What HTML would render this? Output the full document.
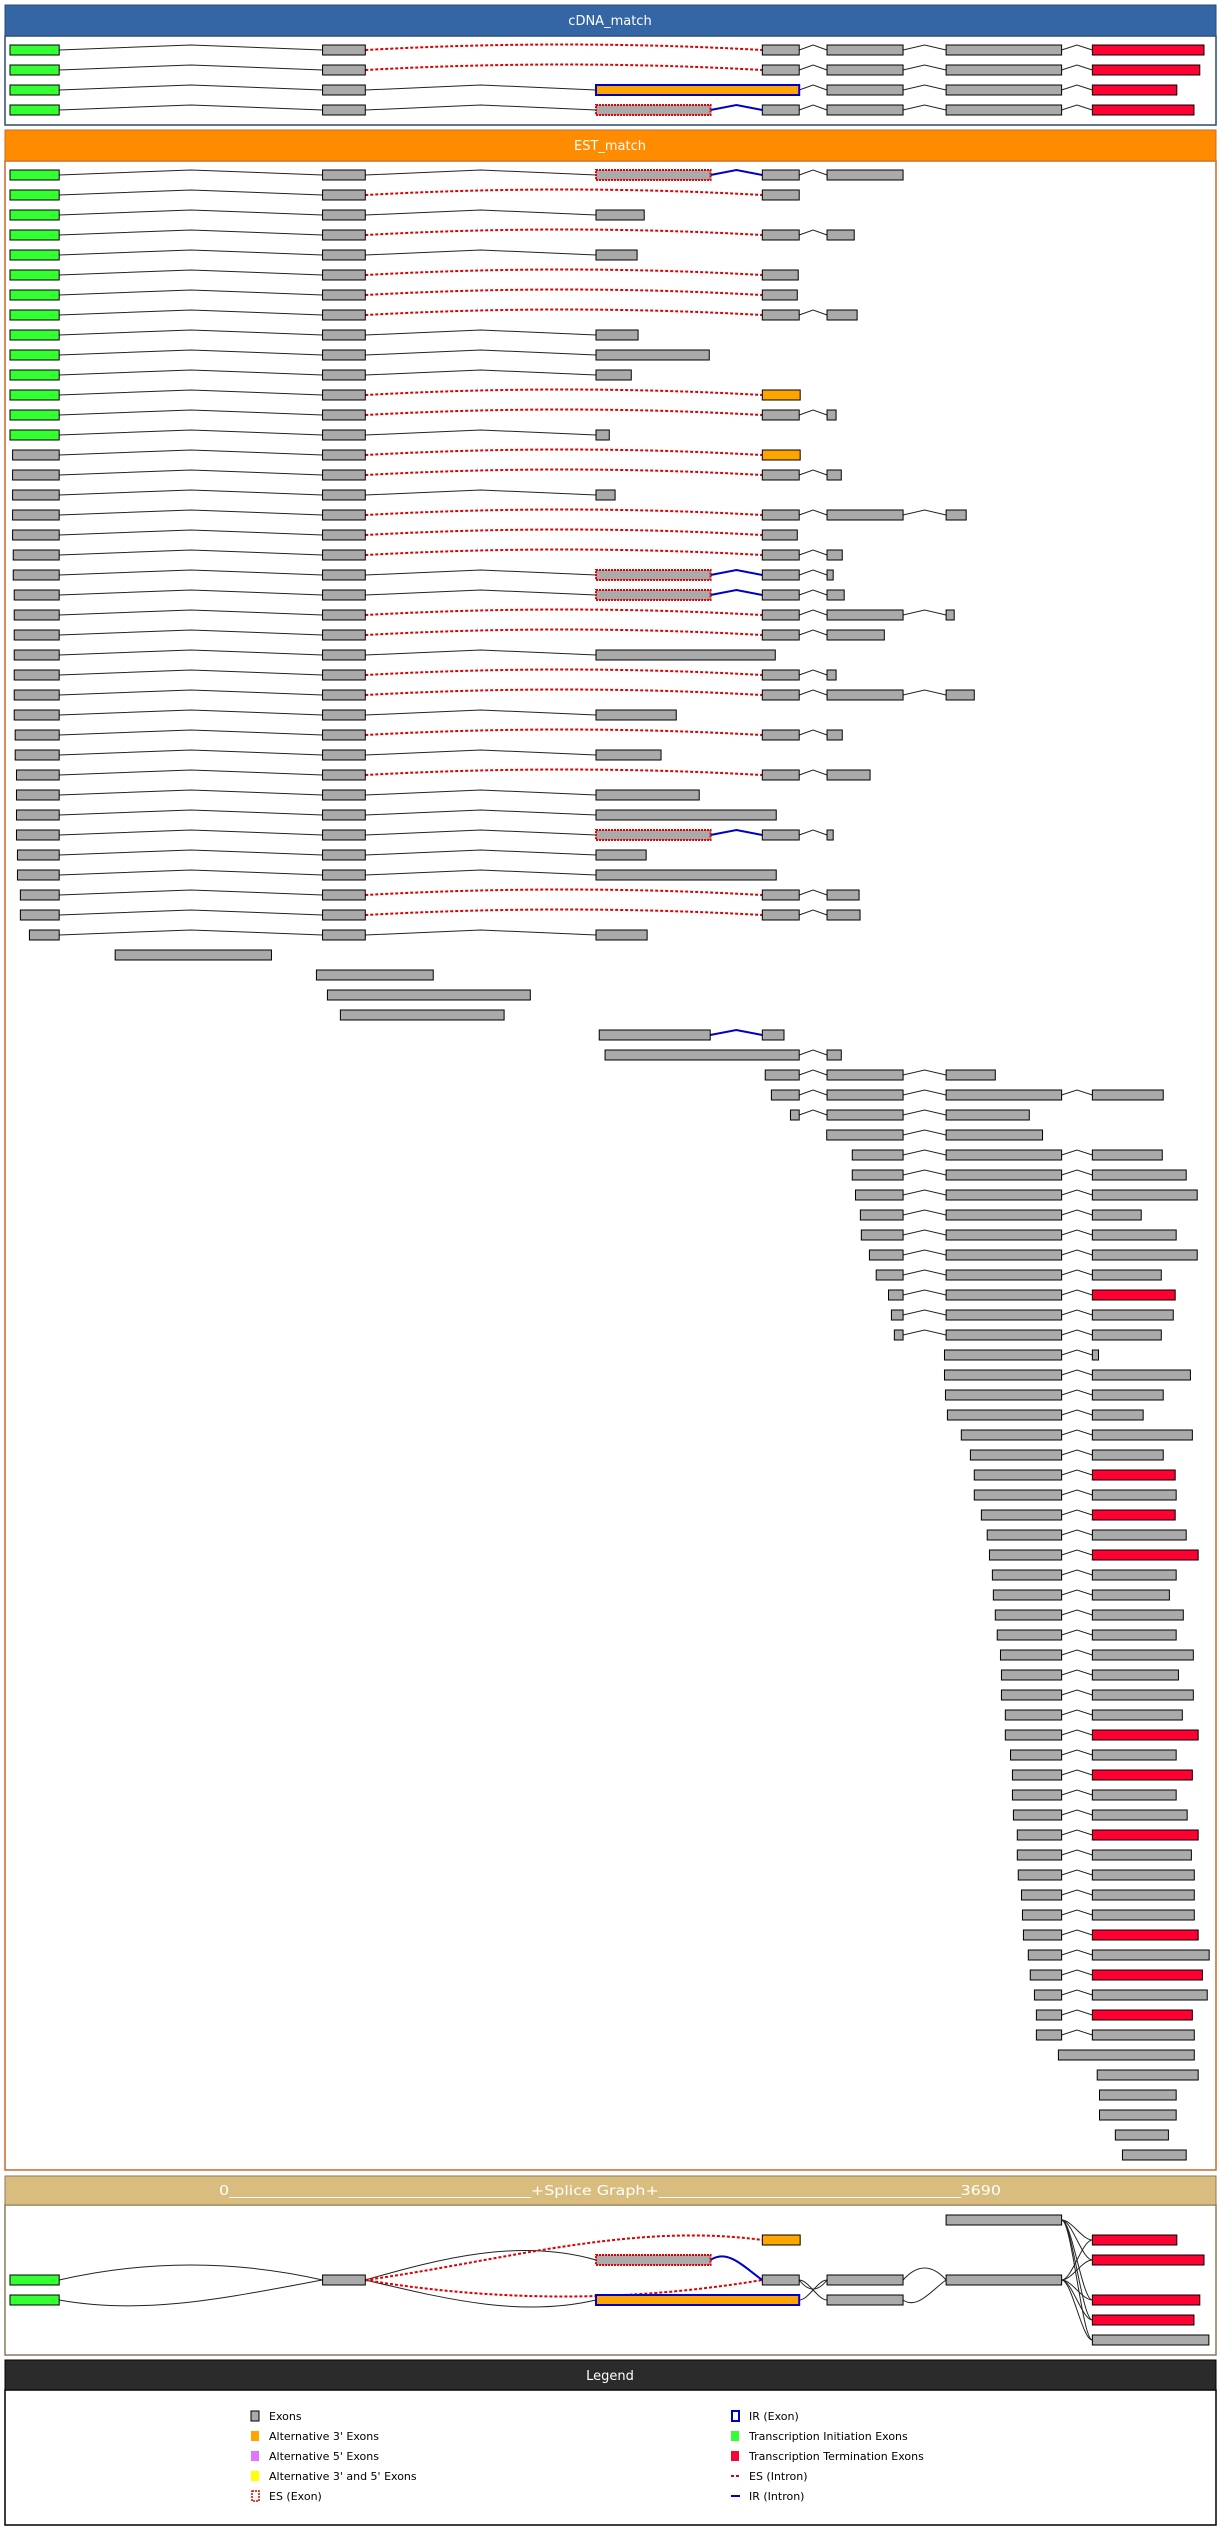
<!DOCTYPE html>
<html><head><meta charset="utf-8">
<style>
html,body{margin:0;padding:0;background:#fff;}
svg{display:block;font-family:"DejaVu Sans","Liberation Sans",sans-serif;}
</style></head>
<body>
<svg id="chart" width="1220" height="2545" viewBox="0 0 1220 2545" xmlns="http://www.w3.org/2000/svg">
  <!-- cDNA panel -->
  <g>
    <rect x="5" y="36" width="1211" height="89" fill="#fff" stroke="#2c4a6e" stroke-width="1.5"/>
    <rect x="5" y="5" width="1211" height="31" fill="#3465a4" stroke="#2c4a6e"/>
    <text x="610" y="25" fill="#fff" font-size="13" text-anchor="middle">cDNA_match</text>
  </g>
  <g>
    <rect x="5" y="161" width="1211" height="2009" fill="#fff" stroke="#c8692a" stroke-width="1.5"/>
    <rect x="5" y="130" width="1211" height="31" fill="#ff8c00" stroke="#c8692a"/>
    <text x="610" y="150" fill="#fff" font-size="13" text-anchor="middle">EST_match</text>
  </g>
  <g>
    <rect x="5" y="2205" width="1211" height="150" fill="#fff" stroke="#8a7a5a" stroke-width="1.5"/>
    <rect x="5" y="2176" width="1211" height="29" fill="#d8bd7e" stroke="#8a7a5a"/>
    <text x="219" y="2195" fill="#fff" font-size="13" textLength="782" lengthAdjust="spacingAndGlyphs">0______________________________________+Splice Graph+______________________________________3690</text>
  </g>
  <g>
    <rect x="5" y="2390" width="1211" height="135" fill="#fff" stroke="#000" stroke-width="1.5"/>
    <rect x="5" y="2360" width="1211" height="30" fill="#2b2b2b" stroke="#000"/>
    <text x="610" y="2380" fill="#fff" font-size="13" text-anchor="middle">Legend</text>
  </g>
  <g id="marks"></g>
</svg>
<script>
// ---- data (genomic coordinates, 0..3690 bp) ----
const geneLength = 3690;
const cdnaRows = [
 "0-152I n 966-1098G d 2325-2439G n 2525-2760G n 2893-3250G n 3345-3690T",
 "0-152I n 966-1098G d 2325-2439G n 2525-2760G n 2893-3250G n 3345-3677T",
 "0-152I n 966-1098G n 1811-2439R n 2525-2760G n 2893-3250G n 3345-3606T",
 "0-152I n 966-1098G n 1811-2165S b 2325-2439G n 2525-2760G n 2893-3250G n 3345-3659T"
];
const estRows = [
 "0-152I n 966-1098G n 1811-2165S b 2325-2439G n 2525-2760G",
 "0-152I n 966-1098G d 2325-2439G",
 "0-152I n 966-1098G n 1811-1960G",
 "0-152I n 966-1098G d 2325-2439G n 2525-2609G",
 "0-152I n 966-1098G n 1811-1938G",
 "0-152I n 966-1098G d 2325-2436G",
 "0-152I n 966-1098G d 2325-2433G",
 "0-152I n 966-1098G d 2325-2439G n 2525-2618G",
 "0-152I n 966-1098G n 1811-1941G",
 "0-152I n 966-1098G n 1811-2161G",
 "0-152I n 966-1098G n 1811-1920G",
 "0-152I n 966-1098G d 2325-2442A",
 "0-152I n 966-1098G d 2325-2439G n 2525-2553G",
 "0-152I n 966-1098G n 1811-1852G",
 "8-152G n 966-1098G d 2325-2442A",
 "8-152G n 966-1098G d 2325-2439G n 2525-2569G",
 "8-152G n 966-1098G n 1811-1870G",
 "8-152G n 966-1098G d 2325-2439G n 2525-2760G n 2893-2955G",
 "8-152G n 966-1098G d 2325-2433G",
 "10-152G n 966-1098G d 2325-2439G n 2525-2572G",
 "10-152G n 966-1098G n 1811-2165S b 2325-2439G n 2525-2544G",
 "13-152G n 966-1098G n 1811-2165S b 2325-2439G n 2525-2578G",
 "13-152G n 966-1098G d 2325-2439G n 2525-2760G n 2893-2918G",
 "13-152G n 966-1098G d 2325-2439G n 2525-2702G",
 "13-152G n 966-1098G n 1811-2365G",
 "13-152G n 966-1098G d 2325-2439G n 2525-2553G",
 "13-152G n 966-1098G d 2325-2439G n 2525-2760G n 2893-2980G",
 "13-152G n 966-1098G n 1811-2059G",
 "16-152G n 966-1098G d 2325-2439G n 2525-2572G",
 "16-152G n 966-1098G n 1811-2012G",
 "20-152G n 966-1098G d 2325-2439G n 2525-2658G",
 "20-152G n 966-1098G n 1811-2130G",
 "20-152G n 966-1098G n 1811-2368G",
 "20-152G n 966-1098G n 1811-2165S b 2325-2439G n 2525-2544G",
 "23-152G n 966-1098G n 1811-1966G",
 "23-152G n 966-1098G n 1811-2368G",
 "32-152G n 966-1098G d 2325-2439G n 2525-2624G",
 "32-152G n 966-1098G d 2325-2439G n 2525-2627G",
 "60-152G n 966-1098G n 1811-1969G",
 "325-808G",
 "947-1308G",
 "981-1608G",
 "1021-1527G",
 "1821-2164G b 2325-2392G",
 "1839-2439G n 2525-2569G",
 "2334-2439G n 2525-2760G n 2893-3045G",
 "2353-2439G n 2525-2760G n 2893-3250G n 3345-3564G",
 "2412-2439G n 2525-2760G n 2893-3150G",
 "2524-2760G n 2893-3191G",
 "2603-2760G n 2893-3250G n 3345-3561G",
 "2603-2760G n 2893-3250G n 3345-3635G",
 "2613-2760G n 2893-3250G n 3345-3669G",
 "2628-2760G n 2893-3250G n 3345-3496G",
 "2631-2760G n 2893-3250G n 3345-3604G",
 "2656-2760G n 2893-3250G n 3345-3669G",
 "2677-2760G n 2893-3250G n 3345-3558G",
 "2715-2760G n 2893-3250G n 3345-3601T",
 "2724-2760G n 2893-3250G n 3345-3595G",
 "2733-2760G n 2893-3250G n 3345-3558G",
 "2888-3250G n 3345-3364G",
 "2888-3250G n 3345-3648G",
 "2891-3250G n 3345-3564G",
 "2897-3250G n 3345-3502G",
 "2940-3250G n 3345-3654G",
 "2968-3250G n 3345-3564G",
 "2980-3250G n 3345-3601T",
 "2980-3250G n 3345-3604G",
 "3002-3250G n 3345-3601T",
 "3020-3250G n 3345-3635G",
 "3027-3250G n 3345-3672T",
 "3036-3250G n 3345-3604G",
 "3039-3250G n 3345-3583G",
 "3045-3250G n 3345-3626G",
 "3051-3250G n 3345-3604G",
 "3061-3250G n 3345-3657G",
 "3064-3250G n 3345-3611G",
 "3064-3250G n 3345-3657G",
 "3076-3250G n 3345-3623G",
 "3076-3250G n 3345-3672T",
 "3092-3250G n 3345-3604G",
 "3098-3250G n 3345-3654T",
 "3098-3250G n 3345-3604G",
 "3101-3250G n 3345-3638G",
 "3113-3250G n 3345-3672T",
 "3113-3250G n 3345-3651G",
 "3116-3250G n 3345-3660G",
 "3126-3250G n 3345-3660G",
 "3129-3250G n 3345-3660G",
 "3132-3250G n 3345-3672T",
 "3147-3250G n 3345-3706G",
 "3153-3250G n 3345-3685T",
 "3166-3250G n 3345-3700G",
 "3172-3250G n 3345-3654T",
 "3172-3250G n 3345-3660G",
 "3240-3660G",
 "3360-3672G",
 "3367-3604G",
 "3367-3604G",
 "3416-3580G",
 "3438-3635G"
];
// splice graph exons: start, end, type, level (0..6)
const sgStarts = [0, 0, 966, 1811, 1811, 2325, 2325, 2525, 2525, 2893, 2893, 3345, 3345, 3345, 3345, 3345];
const sgEnds   = [152, 152, 1098, 2165, 2439, 2442, 2439, 2760, 2760, 3250, 3250, 3606, 3690, 3677, 3659, 3705];
const sgTypes  = ["I","I","G","S","R","A","G","G","G","G","G","T","T","T","T","G"];
const sgLevels = [3, 4, 3, 2, 4, 1, 3, 3, 4, 0, 3, 1, 2, 4, 5, 6];
// edges: from exon index, to exon index, style, bow
const sgFrom = [0, 1, 2, 2, 2, 2, 3, 6, 6, 4, 7, 8, 10,10,10,10,10, 9, 9, 9, 9, 9];
const sgTo   = [2, 2, 3, 4, 5, 6, 6, 7, 8, 7, 10,10,11,12,13,14,15,11,12,13,14,15];
const sgStyle= ["n","n","n","n","d","d","b","n","n","n","n","n","n","n","n","n","n","n","n","n","n","n"];
const sgBow  = [-20, 16, -22, 18, -18, 22, -12, 12, 0, 0, -16, 10, 0,0,0,0,0, 0,0,0,0,0];
const legendLabels = ["Exons","Alternative 3' Exons","Alternative 5' Exons","Alternative 3' and 5' Exons","ES (Exon)","IR (Exon)","Transcription Initiation Exons","Transcription Termination Exons","ES (Intron)","IR (Intron)"];
const legendKeys = ["G","A","F","Y","S","R","I","T","d","b"];

// ---- rendering ----
const NS = "http://www.w3.org/2000/svg";
const marks = document.getElementById("marks");
const xScale = bp => 10 + bp * (1194 / geneLength);
const fills = {I:"#33ff33", G:"#aaaaaa", A:"#ffa500", T:"#ff0033", S:"#aaaaaa", R:"#ffa500", F:"#dd77ff", Y:"#ffff00"};
function mk(tag, attrs, parent){
  const e = document.createElementNS(NS, tag);
  for (const k in attrs) e.setAttribute(k, attrs[k]);
  (parent || marks).appendChild(e);
  return e;
}
function drawExon(s, e, t, cy, g, name){
  const x1 = xScale(s), x2 = xScale(e);
  const r = mk("rect", {x:x1, y:cy-5, width:Math.max(2, x2-x1), height:10, fill:fills[t],
    stroke: t==="S" ? "#e00000" : t==="R" ? "#0000cc" : "#000",
    "stroke-width": (t==="S"||t==="R") ? 2 : 1,
    "stroke-dasharray": t==="S" ? "2,1" : "none"}, g);
  
  
}
function drawIntron(a, b, st, cy, g){
  const x1 = xScale(a), x2 = xScale(b), xm = (x1 + x2) / 2;
  let p;
  if (st === "d") {
    p = mk("path", {d:`M${x1},${cy} Q${xm},${cy-11} ${x2},${cy}`, fill:"none", stroke:"#dd0000", "stroke-width":2, "stroke-dasharray":"3,2"}, g);
    
  } else if (st === "b") {
    p = mk("polyline", {points:`${x1},${cy} ${xm},${cy-5} ${x2},${cy}`, fill:"none", stroke:"#0000cc", "stroke-width":2}, g);
    
  } else {
    p = mk("polyline", {points:`${x1},${cy} ${xm},${cy-5} ${x2},${cy}`, fill:"none", stroke:"#222", "stroke-width":1}, g);
    
  }
  
}
function drawRow(str, cy, name){
  const g = mk("g", {});
  
  
  const tok = str.split(" ");
  const ex = [], it = [];
  tok.forEach((t, i) => {
    if (i % 2 === 0) { const m = t.match(/(\d+)-(\d+)([A-Z])/); ex.push([+m[1], +m[2], m[3]]); }
    else it.push(t);
  });
  it.forEach((st, i) => drawIntron(ex[i][1], ex[i+1][0], st, cy, g));
  ex.forEach(e => drawExon(e[0], e[1], e[2], cy, g, "exon"));
}
cdnaRows.forEach((r, i) => drawRow(r, 50 + 20 * i, "cdna-transcript"));
estRows.forEach((r, i) => drawRow(r, 175 + 20 * i, "est-transcript"));

// splice graph
const sgG = mk("g", {});


const lvlY = l => 2220 + 20 * l;
sgFrom.forEach((f, i) => {
  const t = sgTo[i];
  const x1 = xScale(sgEnds[f]), y1 = lvlY(sgLevels[f]);
  const x2 = xScale(sgStarts[t]), y2 = lvlY(sgLevels[t]);
  const dx = x2 - x1, bw = sgBow[i], st = sgStyle[i];
  const p = mk("path", {d:`M${x1},${y1} C${x1+dx/3},${y1+bw} ${x2-dx/3},${y2+bw} ${x2},${y2}`, fill:"none",
    stroke: st==="d" ? "#dd0000" : st==="b" ? "#0000cc" : "#222",
    "stroke-width": st==="n" ? 1 : 2, "stroke-dasharray": st==="d" ? "3,2" : "none"}, sgG);
  
  
});
sgStarts.forEach((s, i) => drawExon(s, sgEnds[i], sgTypes[i], lvlY(sgLevels[i]), sgG, "splice-node"));

// legend
legendLabels.forEach((lab, i) => {
  const col = i < 5 ? 0 : 1, row = i % 5;
  const x = col ? 731 : 251, y = 2416 + 20 * row;
  const g = mk("g", {});
  
  
  const k = legendKeys[i];
  if (k === "d") {
    mk("line", {x1:x, y1:y, x2:x+9, y2:y, stroke:"#dd0000", "stroke-width":2, "stroke-dasharray":"3,2"}, g);
  } else if (k === "b") {
    mk("line", {x1:x, y1:y, x2:x+9, y2:y, stroke:"#0000cc", "stroke-width":2}, g);
  } else if (k === "S") {
    mk("rect", {x:x+1, y:y-5, width:7, height:10, fill:"#fff", stroke:"#e00000", "stroke-width":1.5, "stroke-dasharray":"2,1"}, g);
  } else if (k === "R") {
    mk("rect", {x:x+1, y:y-5, width:7, height:10, fill:"#fff", stroke:"#0000cc", "stroke-width":2}, g);
  } else {
    mk("rect", {x:x, y:y-5, width:8, height:10, fill:fills[k], stroke: k==="G" ? "#000" : "none"}, g);
  }
  const tx = mk("text", {x:x+18, y:y+4, "font-size":11, fill:"#000"}, g);
  tx.textContent = lab;
});
</script>
</body></html>
